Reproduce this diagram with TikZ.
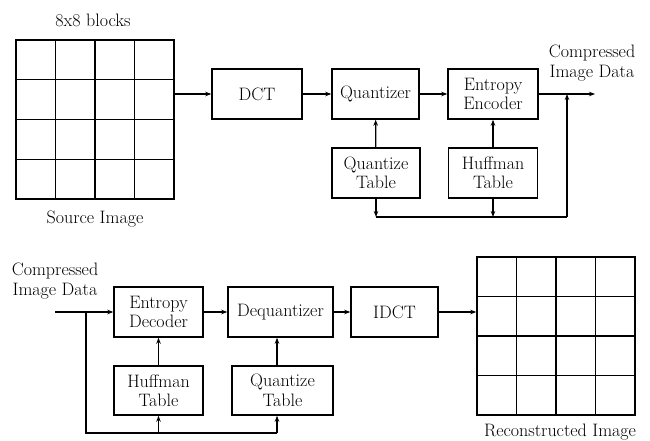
\documentclass[tikz,border=0pt]{standalone}
\usetikzlibrary{arrows.meta}
\begin{document}
\begin{tikzpicture}[x=1pt,y=-1pt,
  font=\rmfamily\fontsize{18}{19.5}\selectfont,
  blk/.style={draw, line width=1.5pt, inner sep=0pt, align=center, minimum height=50pt},
  arr/.style={line width=1.2pt, -{Stealth[length=6pt,width=4.5pt]}},
  ln/.style={line width=1.2pt},
  gridbox/.style={draw, line width=1.5pt, inner sep=0pt},
  gl/.style={line width=1.5pt},
  lbl/.style={inner sep=0pt, align=center}]
\useasboundingbox (0,0) rectangle (650,441);
% ---- top: encoder ----
\node[gridbox, minimum width=158pt, minimum height=159pt] (src) at (95,119.5) {};
\foreach \i in {1,2,3} {
  \draw[gl] (16+39.5*\i,40) -- (16+39.5*\i,199);
  \draw[gl] (16,40+39.75*\i) -- (174,40+39.75*\i);
}
\node[lbl] (blocks) at (93,20) {8x8 blocks};
\node[lbl] (srclbl) at (95,219) {Source Image};
\node[blk, minimum width=90pt] (dct) at (257,94) {DCT};
\node[blk, minimum width=87pt] (quant) at (375.5,94) {Quantizer};
\node[blk, minimum width=90pt] (ee) at (493,94) {Entropy\\Encoder};
\node[blk, minimum width=88pt] (qt1) at (376,173) {Quantize\\Table};
\node[blk, minimum width=89pt] (ht1) at (493,173) {Huffman\\Table};
\node[lbl] (cd1) at (592,63) {Compressed\\Image Data};
\coordinate (out1) at (595,94);
\coordinate (j1) at (567,94);
\coordinate (b1) at (376,217);
\coordinate (b2) at (493,217);
\coordinate (b3) at (567,217);
\draw[arr] (src.east |- dct) -- (dct.west);
\draw[arr] (dct) -- (quant);
\draw[arr] (quant) -- (ee);
\draw[arr] (ee) -- (out1);
\draw[arr] (qt1) -- (quant);
\draw[arr] (ht1) -- (ee);
\draw[arr] (qt1.south) -- (b1);
\draw[arr] (ht1.south) -- (b2);
\draw[ln] (b1) -- (b3);
\draw[arr] (b3) -- (j1);
% ---- bottom: decoder ----
\node[lbl] (cd2) at (55,281) {Compressed\\Image Data};
\coordinate (in2) at (55,312);
\coordinate (s1) at (86,312);
\coordinate (s2) at (86,433);
\coordinate (s3) at (158.5,433);
\coordinate (s4) at (277,433);
\node[blk, minimum width=89pt] (ed) at (158.5,312) {Entropy\\Decoder};
\node[blk, minimum width=105pt] (dq) at (280.5,312) {Dequantizer};
\node[blk, minimum width=87pt] (idct) at (394.5,312) {IDCT};
\node[blk, minimum width=89pt, minimum height=49pt] (ht2) at (158.5,390.5) {Huffman\\Table};
\node[blk, minimum width=101pt, minimum height=49pt] (qt2) at (282.5,390.5) {Quantize\\Table};
\node[gridbox, minimum width=158pt, minimum height=158pt] (rec) at (556,336) {};
\foreach \i in {1,2,3} {
  \draw[gl] (477+39.5*\i,257) -- (477+39.5*\i,415);
  \draw[gl] (477,257+39.5*\i) -- (635,257+39.5*\i);
}
\node[lbl] (reclbl) at (560,432) {Reconstructed Image};
\draw[arr] (in2) -- (ed);
\draw[arr] (ed) -- (dq);
\draw[arr] (dq) -- (idct);
\draw[arr] (idct) -- (rec.west |- idct);
\draw[arr] (ht2) -- (ed);
\draw[arr] (qt2.north -| s4) -- (s4 |- dq.south);
\draw[ln] (s1) -- (s2) -- (s4);
\draw[arr] (s3) -- (ht2.south);
\draw[arr] (s4) -- (s4 |- qt2.south);
\end{tikzpicture}
\end{document}
